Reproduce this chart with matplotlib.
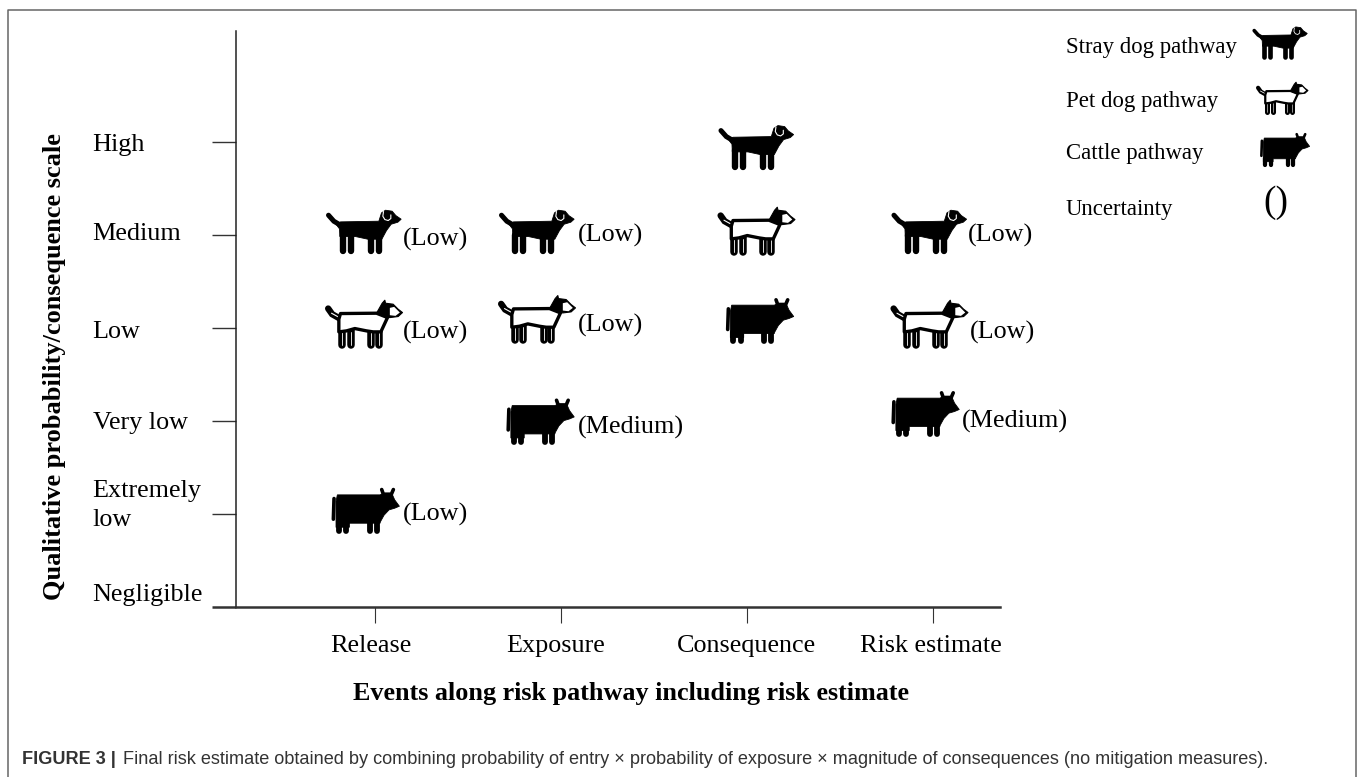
import numpy as np
from matplotlib import pyplot as plt
from matplotlib import rcParams
from matplotlib.lines import Line2D
from matplotlib.patches import PathPatch
from matplotlib.path import Path
from matplotlib.transforms import Affine2D, ScaledTranslation

rcParams['font.family'] = 'Liberation Serif'

#%% values
levels = ['Negligible', 'Extremely\nlow', 'Very low', 'Low', 'Medium', 'High']
events = ['Release', 'Exposure', 'Consequence', 'Risk estimate']
xlabel = 'Events along risk pathway including risk estimate'
ylabel = 'Qualitative probability/consequence scale'

# event position (1-4) and scale level (0-5) of each icon
stray_x = [0.94, 1.87, 3.05, 3.98]
stray_y = [4.03, 4.03, 4.94, 4.03]
stray_unc = ['Low', 'Low', '', 'Low']

pet_x = [0.94, 1.87, 3.05, 3.98]
pet_y = [3.03, 3.08, 4.03, 3.03]
pet_unc = ['Low', 'Low', '', 'Low']

cow_x = [0.95, 1.89, 3.07, 3.96]
cow_y = [1.03, 1.99, 3.07, 2.07]
cow_unc = ['Low', 'Medium', '', 'Medium']

legend_names = ['Stray dog pathway', 'Pet dog pathway', 'Cattle pathway', 'Uncertainty']
caption_head = 'FIGURE 3 |'
caption_body = ('Final risk estimate obtained by combining probability of entry \u00d7 probability '
                'of exposure \u00d7 magnitude of consequences (no mitigation measures).')

#%% icon outlines, drawn in a px-at-3x grid centred on the icon
stray_body = [(90, 89), (205, 87), (213, 62), (225, 54), (245, 57), (256, 70), (272, 81), (262, 90),
              (242, 96), (228, 115), (214, 141), (172, 141), (135, 133), (88, 133), (87, 110), (78, 98)]
stray_tail = [(54, 69), (70, 87), (92, 100)]
stray_ear = [(219, 58), (217, 72), (223, 82), (233, 85), (241, 79), (241, 68)]
stray_legs = [96, 120, 180, 204]

pet_body = [(97, 323), (205, 322), (238, 335), (218, 378), (195, 378), (175, 375), (140, 368), (115, 375), (92, 378),
            (92, 340)]
pet_head = [(205, 322), (222, 292), (230, 283), (232, 292), (255, 295), (270, 310), (283, 320), (270, 332),
            (246, 335), (238, 335)]
pet_muzzle = [(245, 306), (258, 303), (275, 320), (262, 330), (245, 328)]
pet_tail = [(60, 308), (72, 325), (95, 338)]
pet_tail_in = [(70, 322), (90, 333)]
pet_legs = [101, 127, 188, 211]

cow_body = [(50, 311), (178, 311), (186, 307), (214, 308), (222, 326), (236, 345), (222, 351), (205, 356),
            (190, 372), (179, 392), (178, 396), (86, 396), (86, 408), (46, 408), (46, 330)]
cow_horns = [(183, 295), (188, 309), (212, 309), (218, 295)]
cow_tail = [(40, 322), (38, 384)]
cow_legs = [54, 77, 147, 169]

# px nudges of the uncertainty labels from their icon
stray_nudge = [(39, -7), (41, -3), (0, 0), (39, -3)]
pet_nudge = [(39, -7), (41, -4.5), (0, 0), (41, -7)]
cow_nudge = [(37, -3), (37.5, -6), (0, 0), (36.5, -6.5)]


def closed(points, centre):
    pts = np.array(points + points[:1], dtype=float) - centre
    codes = [Path.MOVETO] + [Path.LINETO] * (len(points) - 1) + [Path.CLOSEPOLY]
    return Path(pts, codes)


def opened(points, centre):
    return Path(np.array(points, dtype=float) - centre)


def place(x, y, scale, trans):
    # y of the icon grid points down; 1/3 because the grid is the 3x crop
    return Affine2D().scale(scale/3, -scale/3) + ScaledTranslation(x, y, trans)


def stroke(points, centre, color, lw, tr):
    fig.add_artist(PathPatch(opened(points, centre), fc='none', ec=color, lw=lw, capstyle='round', transform=tr))


def draw_dog_black(x, y, scale, trans):
    c = (160, 120)
    tr = place(x, y, scale, trans)
    fig.add_artist(PathPatch(closed(stray_body, c), fc='k', ec='k', lw=0.6, transform=tr))
    stroke(stray_tail, c, 'k', 3.6*scale, tr)
    for lx in stray_legs:
        stroke([(lx, 128), (lx, 177)], c, 'k', 4.6*scale, tr)
    stroke(stray_ear, c, 'w', 0.8*scale, tr)


def draw_dog_white(x, y, scale, trans):
    c = (167, 358)
    tr = place(x, y, scale, trans)
    stroke(pet_tail, c, 'k', 4.6*scale, tr)
    stroke(pet_tail_in, c, 'w', 0.8*scale, tr)
    for lx in pet_legs:
        stroke([(lx, 372), (lx, 416)], c, 'k', 5.4*scale, tr)
        stroke([(lx, 378), (lx, 416)], c, 'w', 0.6*scale, tr)
    fig.add_artist(PathPatch(closed(pet_body, c), fc='w', ec='k', lw=2.4*scale, joinstyle='round', transform=tr))
    fig.add_artist(PathPatch(closed(pet_head, c), fc='k', ec='k', lw=0.8, joinstyle='round', transform=tr))
    fig.add_artist(PathPatch(closed(pet_muzzle, c), fc='w', ec='none', transform=tr))


def draw_cow(x, y, scale, trans):
    c = (135, 360)
    tr = place(x, y, scale, trans)
    fig.add_artist(PathPatch(closed(cow_body, c), fc='k', ec='k', lw=0.6, joinstyle='round', transform=tr))
    stroke(cow_horns, c, 'k', 2.6*scale, tr)
    stroke(cow_tail, c, 'k', 2.6*scale, tr)
    for lx in cow_legs:
        stroke([(lx, 392), (lx, 420)], c, 'k', 4.2*scale, tr)


#%%
fig = plt.figure(figsize=(13.58, 7.77), dpi=100)
W, H = 1358, 777
ax = fig.add_axes([236/W, 1-607/H, (1000-236)/W, (607-31)/H])

ax.set_xlim(1+(236-375)/186, 1+(1000-375)/186)
ax.set_ylim(0, (607-31)/93)
ax.patch.set_visible(False)

ax.spines['top'].set_visible(False)
ax.spines['right'].set_visible(False)
ax.spines['left'].set_linewidth(1.1)
ax.spines['left'].set_color('#222222')
ax.spines['bottom'].set_linewidth(1.8)
ax.spines['bottom'].set_color('#333333')

ax.set_xticks(np.arange(1, 5), labels=events)
ax.set_yticks(np.arange(6), labels=levels)
ax.tick_params(axis='x', length=11.5, width=0.8, pad=8.5, labelsize=18.8, color='#333333')
ax.tick_params(axis='y', length=17.3, width=1.0, pad=86, labelsize=18.8, color='#333333')
for lab in ax.get_yticklabels():
    lab.set_ha('left')
    lab.set_linespacing(1.45)

# tick labels sit a little off their ticks in the original
yshift = [15, 15, 0, -1, 4, 0]
for lab, dy in zip(ax.get_yticklabels(), yshift):
    lab.set_transform(lab.get_transform() + ScaledTranslation(0, dy/100, fig.dpi_scale_trans))
xshift = [-4, -5, -1, -2]
for lab, dx in zip(ax.get_xticklabels(), xshift):
    lab.set_transform(lab.get_transform() + ScaledTranslation(dx/100, 0, fig.dpi_scale_trans))

# the bottom axis runs on to the left as the Negligible tick
ax.get_yticklines()[0].set_markeredgewidth(1.8)

fig.text(54.5/W, 1-367/H, ylabel, rotation=90, ha='center', va='center', fontsize=19, fontweight='bold')
fig.text(631/W, 1-693.5/H, xlabel, ha='center', va='center', fontsize=18.8, fontweight='bold')

#%% icons and uncertainty labels
for xs, ys, uncs, nudges, draw in [(stray_x, stray_y, stray_unc, stray_nudge, draw_dog_black),
                                   (pet_x, pet_y, pet_unc, pet_nudge, draw_dog_white),
                                   (cow_x, cow_y, cow_unc, cow_nudge, draw_cow)]:
    for x, y, unc, (dx, dy) in zip(xs, ys, uncs, nudges):
        draw(x, y, 1.0, ax.transData)
        if unc:
            ax.annotate('('+unc+')', xy=(x, y), xytext=(dx*0.72, dy*0.72), textcoords='offset points',
                        ha='left', va='center', fontsize=18.8)

#%% legend
legend_y = [48, 102, 154, 210]
for name, ly in zip(legend_names, legend_y):
    fig.text(1066/W, 1-ly/H, name, ha='left', va='center', fontsize=16.4)

draw_dog_black(1280/W, 1-43/H, 0.73, fig.transFigure)
draw_dog_white(1282/W, 1-99/H, 0.67, fig.transFigure)
draw_cow(1285/W, 1-150/H, 0.73, fig.transFigure)
fig.text(1276/W, 1-203/H, '()', ha='center', va='center', fontsize=27)

#%% caption and page frame
fig.text(22/W, 1-764.5/H, caption_head, ha='left', va='baseline', family='Liberation Sans',
         fontweight='bold', fontsize=13.05, color='#333333')
fig.text(123/W, 1-764.5/H, caption_body, ha='left', va='baseline', family='Liberation Sans',
         fontsize=13.05, color='#333333')

frame_x = [8/W, 8/W, 1356/W, 1356/W]
frame_y = [0, 1-10/H, 1-10/H, 0]
fig.add_artist(Line2D(frame_x, frame_y, color='#666666', lw=1.1))

fig.savefig('out.png', dpi=100)
